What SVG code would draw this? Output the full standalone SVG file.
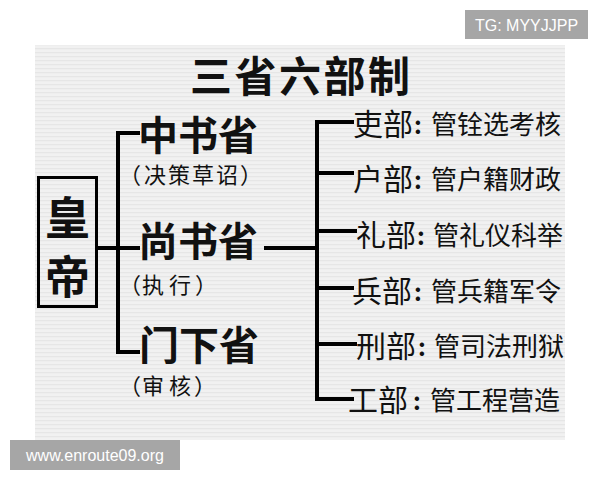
<svg xmlns="http://www.w3.org/2000/svg" width="600" height="480" viewBox="0 0 600 480">
  <defs>
    <pattern id="stripes" width="8" height="4" patternUnits="userSpaceOnUse">
      <rect width="8" height="4" fill="#f1f1f1"/>
      <rect y="0" width="8" height="1.2" fill="#e6e6e6"/>
    </pattern>
  </defs>
  <style>
    .cjk { font-family: "Noto Sans CJK SC", "Noto Sans", sans-serif; fill: #111; }
    .big { font-size: 40px; font-weight: 700; }
    .sub { font-size: 22px; font-weight: 400; }
    .dept { font-size: 30px; font-weight: 400; }
    .duty { font-size: 26px; font-weight: 400; }
    .colon { font-size: 24px; font-weight: 700; }
    .line { stroke: #000; stroke-width: 4; fill: none; stroke-linecap: square; }
    .tag { fill: #a6a6a6; }
    .tagtext { font-family: "Liberation Sans", Arial, sans-serif; font-size: 16px; fill: #fff; }
  </style>

  <rect x="0" y="0" width="600" height="480" fill="#ffffff"/>
  <rect x="35" y="45" width="530" height="395" fill="url(#stripes)"/>

  <g id="tag-tg">
    <rect class="tag" x="465" y="10" width="123" height="29"/>
    <text class="tagtext" x="526.5" y="30.5" text-anchor="middle">TG: MYYJJPP</text>
  </g>
  <g id="tag-www">
    <rect class="tag" x="10" y="440" width="170" height="30"/>
    <text class="tagtext" x="95" y="461" text-anchor="middle">www.enroute09.org</text>
  </g>

  <g id="title">
    <text class="cjk" x="190" y="92" font-size="42" font-weight="700" textLength="220" lengthAdjust="spacing">三省六部制</text>
  </g>

  <g id="connectors">
    <path class="line" d="M97 248 H138"/>
    <path class="line" d="M138 133 H118 V352 H138"/>
    <path class="line" d="M266 248 H317"/>
    <path class="line" d="M352 122 H317 V399 H352"/>
    <path class="line" d="M317 173 H352"/>
    <path class="line" d="M317 231 H355"/>
    <path class="line" d="M317 288 H352"/>
    <path class="line" d="M317 344 H355"/>
  </g>

  <g id="node-emperor">
    <rect x="38.5" y="177.5" width="58" height="129" fill="none" stroke="#000" stroke-width="3"/>
    <text class="cjk" x="67.5" y="235" font-size="45" font-weight="700" text-anchor="middle">皇</text>
    <text class="cjk" x="67.5" y="294" font-size="45" font-weight="700" text-anchor="middle">帝</text>
  </g>

  <g id="node-zhongshu">
    <text class="cjk big" x="138" y="150">中书省</text>
    <text class="cjk sub" x="119 144 168 192 216 240" y="183">（决策草诏）</text>
  </g>
  <g id="node-shangshu">
    <text class="cjk big" x="138" y="256">尚书省</text>
    <text class="cjk sub" x="119 142 169 195" y="293">（执行）</text>
  </g>
  <g id="node-menxia">
    <text class="cjk big" x="139" y="360">门下省</text>
    <text class="cjk sub" x="119 142 169 194" y="394">（审核）</text>
  </g>

  <g id="node-li-personnel">
    <text class="cjk dept" x="353" y="135">吏部</text>
    <text class="cjk colon" x="414" y="134">:</text>
    <text class="cjk duty" x="431" y="134">管铨选考核</text>
  </g>
  <g id="node-hu">
    <text class="cjk dept" x="353" y="190">户部</text>
    <text class="cjk colon" x="414" y="189">:</text>
    <text class="cjk duty" x="431" y="189">管户籍财政</text>
  </g>
  <g id="node-li-rites">
    <text class="cjk dept" x="356" y="246">礼部</text>
    <text class="cjk colon" x="417" y="245">:</text>
    <text class="cjk duty" x="433" y="245">管礼仪科举</text>
  </g>
  <g id="node-bing">
    <text class="cjk dept" x="352" y="302">兵部</text>
    <text class="cjk colon" x="414" y="301">:</text>
    <text class="cjk duty" x="431" y="301">管兵籍军令</text>
  </g>
  <g id="node-xing">
    <text class="cjk dept" x="356" y="357">刑部</text>
    <text class="cjk colon" x="418" y="356">:</text>
    <text class="cjk duty" x="434" y="356">管司法刑狱</text>
  </g>
  <g id="node-gong">
    <text class="cjk dept" x="348" y="411">工部</text>
    <text class="cjk colon" x="413" y="410">:</text>
    <text class="cjk duty" x="430" y="410">管工程营造</text>
  </g>
</svg>
